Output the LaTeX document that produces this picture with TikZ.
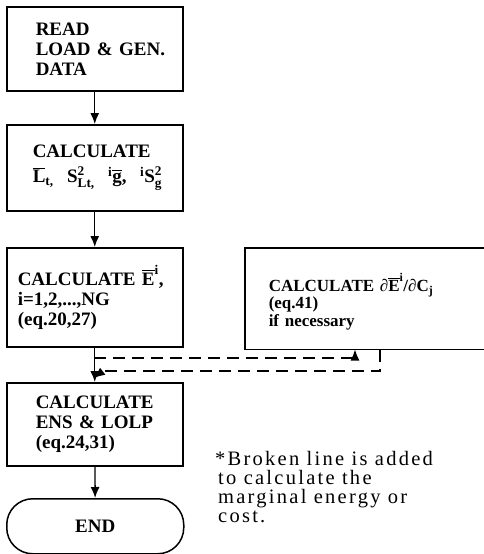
\documentclass[tikz,border=0pt]{standalone}
\usepackage{fontspec}
\usepackage{amsmath}
\setmainfont{Liberation Serif}
\newfontfamily\notefont[LetterSpace=11]{Liberation Serif}
\usetikzlibrary{arrows.meta}
\begin{document}
\begin{tikzpicture}[x=1pt,y=-1pt,
  box/.style={draw, line width=1.5pt, rectangle, anchor=north west,
    align=left, inner ysep=0pt, font=\bfseries\fontsize{19}{20}\selectfont},
  endbox/.style={draw, line width=1.5pt, rectangle, rounded corners=26pt,
    anchor=north west, minimum width=177pt, minimum height=55pt,
    font=\bfseries\fontsize{19}{20}\selectfont},
  arr/.style={line width=1.4pt, -{Latex[length=11pt,width=9pt]}},
  dsh/.style={line width=1.3pt, dash pattern=on 12pt off 7pt,
    -{Latex[length=11pt,width=9pt]}}]
\fill[white] (0,0) rectangle (484,554);
\useasboundingbox (0,0) rectangle (484,554);

\node[box, inner xsep=29pt, text width=118pt, minimum height=84pt] (b1) at (6,6)
  {READ\\LOAD~\&~GEN.\\DATA};
\node[box, inner xsep=26pt, text width=124pt, minimum height=86pt] (b2) at (6,124)
  {CALCULATE\\[5pt]
   \mbox{$\overline{\text{L}}_{\text{t,}}\mkern14mu\text{S}^{\text{2}}_{\text{Lt,}}\mkern14mu{}^{\text{i}}\overline{\text{g}}\text{,}\mkern14mu{}^{\text{i}}\text{S}^{\text{2}}_{\text{g}}$}};
\node[box, inner xsep=11pt, text width=154pt, minimum height=99pt] (b3) at (6,247)
  {\rule{0pt}{16pt}CALCULATE~$\overline{\text{E}}^{\text{i}}$,\\i=1,2,...,NG\\(eq.20,27)};
\node[box, inner xsep=29pt, text width=118pt, minimum height=83pt] (b4) at (6,382)
  {CALCULATE\\ENS~\&~LOLP\\(eq.24,31)};
\node[endbox] (e) at (6,498) {END};

\node[box, draw=none, inner xsep=23pt, text width=193pt, minimum height=100pt,
  font=\bfseries\fontsize{17}{17.5}\selectfont] (rb) at (245,248)
  {\rule{0pt}{24pt}CALCULATE~∂$\overline{\text{E}}^{\text{i}}$/∂C$_{\text{j}}$\\(eq.41)\\if~necessary};
\draw[line width=1.5pt] (rb.north east) -- (rb.north west) -- (rb.south west) -- (rb.south east);

\draw[arr] (b1) -- (b2);
\draw[arr] (b2) -- (b3);
\draw[arr] (b3) -- (b4);
\draw[arr] (b4) -- (e);

\coordinate (j1) at (94,358);
\coordinate (j3) at (103,371);
\coordinate (j2) at (94,378);
\draw[dsh] (j1) -| ([xshift=110pt]rb.south west);
\draw[dsh] ([xshift=135pt]rb.south west) |- (j3) -- (j2);

\node[anchor=north west, align=left, inner sep=0pt,
  font=\notefont\fontsize{20.5}{19}\selectfont] (note) at (215,451)
  {*Broken line is added\\\hspace*{3pt}to calculate the\\\hspace*{3pt}marginal energy or\\\hspace*{3pt}cost.};
\end{tikzpicture}
\end{document}
